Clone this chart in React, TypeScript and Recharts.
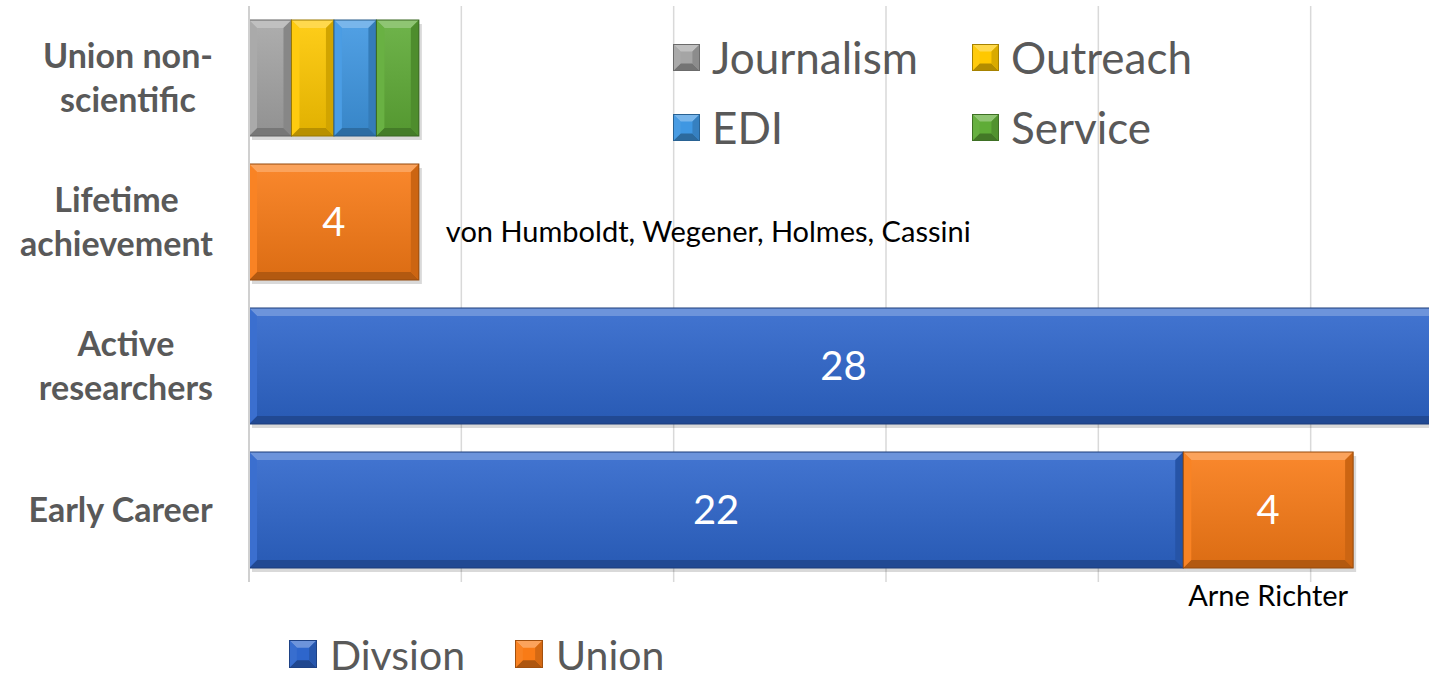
import React from 'react';
import { BarChart, Bar, XAxis, YAxis, CartesianGrid, LabelList, Legend } from 'recharts';

// categories, top to bottom
const categories = ['Union non-\nscientific', 'Lifetime\nachievement', 'Active\nresearchers', 'Early Career'];

const journalism = [1, 0, 0, 0];
const outreach = [1, 0, 0, 0];
const edi = [1, 0, 0, 0];
const service = [1, 0, 0, 0];
const division = [0, 0, 28, 22];
const union = [0, 4, 0, 4];
const unionNotes = ['', 'von Humboldt, Wegener, Holmes, Cassini', '', 'Arne Richter'];

const xTicks = [0, 5, 10, 15, 20, 25, 30];

const series = [
  { key: 'journalism', name: 'Journalism', color: '#A5A5A5' },
  { key: 'outreach', name: 'Outreach', color: '#FFC800' },
  { key: 'edi', name: 'EDI', color: '#3F97E2' },
  { key: 'service', name: 'Service', color: '#5FAC37' },
  { key: 'division', name: 'Divsion', color: '#2E66CC' },
  { key: 'union', name: 'Union', color: '#F97B16' },
];
const topLegendKeys = ['journalism', 'outreach', 'edi', 'service'];
const bottomLegendKeys = ['division', 'union'];

const data = categories.map((category, i) => ({
  category,
  journalism: journalism[i],
  outreach: outreach[i],
  edi: edi[i],
  service: service[i],
  division: division[i],
  union: union[i],
  unionNote: unionNotes[i],
}));

const FONT = 'Lato, "Open Sans", sans-serif';
const W = 1523;
const H = 678;

function shade(hex: string, amt: number) {
  const n = parseInt(hex.slice(1), 16);
  const t = amt < 0 ? 0 : 255;
  const p = Math.abs(amt);
  const ch = [n >> 16, (n >> 8) & 255, n & 255].map((c) => Math.round(c + (t - c) * p));
  return `rgb(${ch[0]},${ch[1]},${ch[2]})`;
}

function BevelBar(props: any) {
  const { x, y, width, height, color, id } = props;
  if (!width || width <= 0.5) return null;
  const b = Math.min(8, width / 4, height / 4);
  const gid = `face-${id}`;
  return (
    <g>
      <defs>
        <linearGradient id={gid} x1="0" y1="0" x2="0" y2="1">
          <stop offset="0%" stopColor={shade(color, 0.1)} />
          <stop offset="100%" stopColor={shade(color, -0.12)} />
        </linearGradient>
      </defs>
      <rect x={x + 3} y={y + 4} width={width} height={height} fill="rgba(0,0,0,0.15)" />
      <rect x={x} y={y} width={width} height={height} fill={`url(#${gid})`} />
      <polygon points={`${x},${y} ${x + width},${y} ${x + width - b},${y + b} ${x + b},${y + b}`} fill={shade(color, 0.3)} />
      <polygon points={`${x},${y + height} ${x + width},${y + height} ${x + width - b},${y + height - b} ${x + b},${y + height - b}`} fill={shade(color, -0.28)} />
      <polygon points={`${x},${y} ${x + b},${y + b} ${x + b},${y + height - b} ${x},${y + height}`} fill={shade(color, 0.06)} />
      <polygon points={`${x + width},${y} ${x + width - b},${y + b} ${x + width - b},${y + height - b} ${x + width},${y + height}`} fill={shade(color, -0.18)} />
      <rect x={x} y={y} width={width} height={height} fill="none" stroke={shade(color, -0.4)} strokeWidth={1} />
    </g>
  );
}

let measureCtx: CanvasRenderingContext2D | null = null;
function textWidth(s: string, font: string) {
  if (!measureCtx) measureCtx = document.createElement('canvas').getContext('2d');
  if (!measureCtx) return s.length * 18;
  measureCtx.font = font;
  return measureCtx.measureText(s).width;
}

function CategoryTick(props: any) {
  const { x, y, payload } = props;
  const lines = String(payload.value).split('\n');
  const size = 34;
  const font = `bold ${size}px ${FONT}`;
  const w = Math.max(...lines.map((l) => textWidth(l, font)));
  const right = x - 28;
  const cx = right - w / 2;
  return (
    <text x={cx} y={y} textAnchor="middle" fill="#595959" fontSize={size} fontWeight="bold" fontFamily={FONT}>
      {lines.map((l, i) => (
        <tspan key={i} x={cx} y={y + (i - (lines.length - 1) / 2) * 44} dy="0.35em">
          {l}
        </tspan>
      ))}
    </text>
  );
}

function ValueLabel(props: any) {
  const { x, y, width, height, value } = props;
  if (!value) return null;
  return (
    <text x={x + width / 2} y={y + height / 2} dy="0.35em" textAnchor="middle" fill="#fff" fontSize={40} fontFamily={FONT}>
      {value}
    </text>
  );
}

function NoteLabel(props: any) {
  const { x, y, width, height, value, index } = props;
  if (!value) return null;
  // beside a lone union bar, underneath when it follows a division segment
  if (division[index] > 0) {
    return (
      <text x={x + width / 2} y={y + height + 28} dy="0.35em" textAnchor="middle" fill="#000" fontSize={29} fontFamily={FONT}>
        {value}
      </text>
    );
  }
  return (
    <text x={x + width + 27} y={y + height / 2 + 10} dy="0.35em" textAnchor="start" fill="#000" fontSize={29} fontFamily={FONT}>
      {value}
    </text>
  );
}

function LegendIcon({ color, size }: { color: string; size: number }) {
  const s = size;
  const b = s * 0.28;
  return (
    <svg width={s} height={s} style={{ display: 'block', flex: 'none' }}>
      <rect x={0} y={0} width={s} height={s} fill={color} />
      <polygon points={`0,0 ${s},0 ${s - b},${b} ${b},${b}`} fill={shade(color, 0.3)} />
      <polygon points={`0,${s} ${s},${s} ${s - b},${s - b} ${b},${s - b}`} fill={shade(color, -0.3)} />
      <polygon points={`0,0 ${b},${b} ${b},${s - b} 0,${s}`} fill={shade(color, 0.05)} />
      <polygon points={`${s},0 ${s - b},${b} ${s - b},${s - b} ${s},${s}`} fill={shade(color, -0.15)} />
      <rect x={0.5} y={0.5} width={s - 1} height={s - 1} fill="none" stroke={shade(color, -0.35)} />
    </svg>
  );
}

function ChartLegend(props: any) {
  const payload: any[] = props.payload || [];
  const pick = (keys: string[]) =>
    keys.map((k) => payload.find((p) => p.dataKey === k)).filter(Boolean);
  const top = pick(topLegendKeys);
  const bottom = pick(bottomLegendKeys);
  return (
    <div style={{ position: 'relative', width: W, height: H, fontFamily: FONT, color: '#595959' }}>
      <div style={{ position: 'absolute', left: 673, top: 22, display: 'grid', gridTemplateColumns: '299px 299px' }}>
        {top.map((p: any) => (
          <div key={p.dataKey} style={{ display: 'flex', alignItems: 'center', height: 70, fontSize: 44, lineHeight: '50px' }}>
            <LegendIcon color={p.color} size={27} />
            <span style={{ marginLeft: 12 }}>{p.value}</span>
          </div>
        ))}
      </div>
      <div style={{ position: 'absolute', left: 289, top: 633, display: 'flex', alignItems: 'center', height: 42 }}>
        {bottom.map((p: any) => (
          <div key={p.dataKey} style={{ display: 'flex', alignItems: 'center', fontSize: 41, lineHeight: '41px', marginRight: 50 }}>
            <LegendIcon color={p.color} size={28} />
            <span style={{ marginLeft: 13 }}>{p.value}</span>
          </div>
        ))}
      </div>
    </div>
  );
}

export default function App() {
  return (
    <div style={{ position: 'absolute', left: 0, top: 0, width: 1429, height: 678, overflow: 'hidden', background: '#fff' }}>
      <BarChart
        width={W}
        height={H}
        data={data}
        layout="vertical"
        margin={{ top: 6, right: 0, bottom: 96, left: 0 }}
        barCategoryGap={14}
        style={{ fontFamily: FONT }}
      >
        <CartesianGrid horizontal={false} stroke="#d9d9d9" strokeWidth={1.5} />
        <XAxis type="number" hide domain={[0, 30]} ticks={xTicks} />
        <YAxis
          type="category"
          dataKey="category"
          width={249}
          axisLine={{ stroke: '#d0d0d0', strokeWidth: 2 }}
          tickLine={false}
          tick={<CategoryTick />}
          interval={0}
        />
        <Legend
          layout="horizontal"
          verticalAlign="middle"
          align="center"
          content={<ChartLegend />}
          wrapperStyle={{ position: 'absolute', left: 0, top: 0, width: W, height: H, pointerEvents: 'none' }}
        />
        {series.map((s) => (
          <Bar
            key={s.key}
            dataKey={s.key}
            name={s.name}
            stackId="a"
            fill={s.color}
            isAnimationActive={false}
            shape={(p: any) => <BevelBar {...p} color={s.color} id={`${s.key}-${p.index}`} />}
          >
            {(s.key === 'division' || s.key === 'union') && <LabelList dataKey={s.key} content={<ValueLabel />} />}
            {s.key === 'union' && <LabelList dataKey="unionNote" content={<NoteLabel />} />}
          </Bar>
        ))}
      </BarChart>
    </div>
  );
}
